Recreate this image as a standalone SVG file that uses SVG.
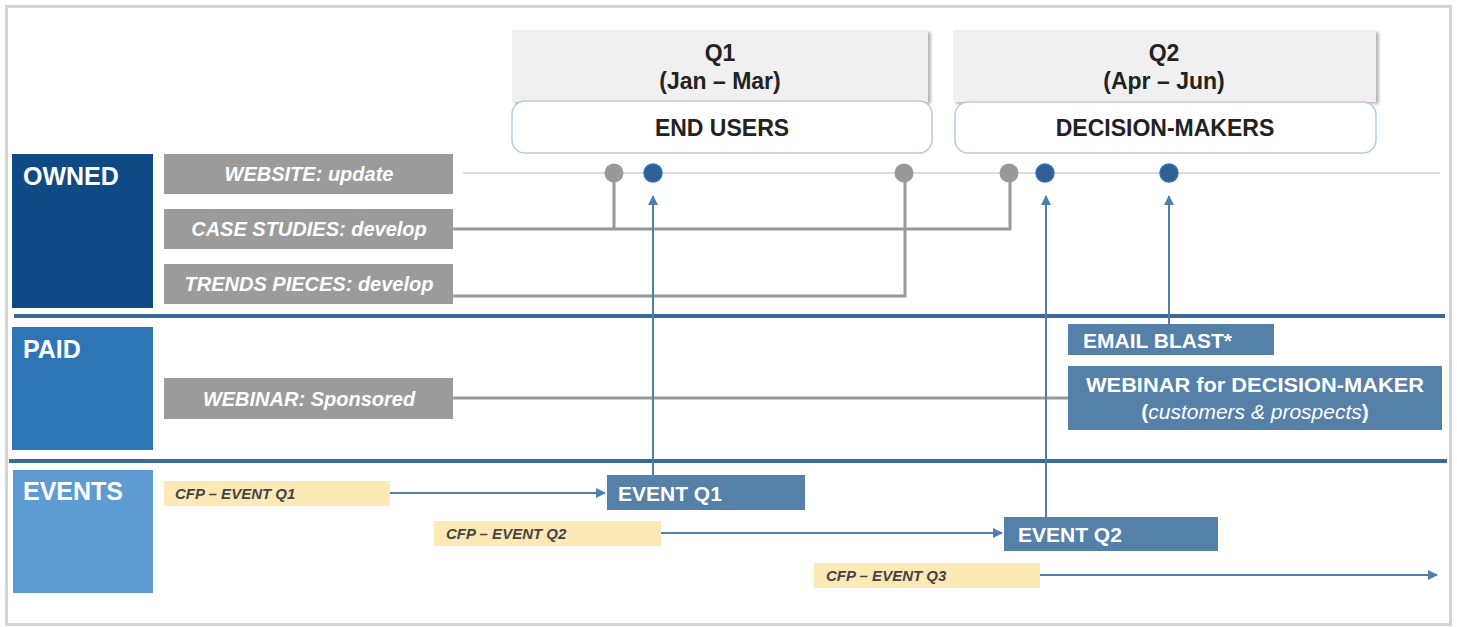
<svg xmlns="http://www.w3.org/2000/svg" width="1457" height="627" viewBox="0 0 1457 627">
<defs>
<marker id="arr" viewBox="0 0 10 10" refX="9" refY="5" markerWidth="5" markerHeight="5" orient="auto" markerUnits="strokeWidth">
<path d="M0,0 L10,5 L0,10 z" fill="#4F7FAA"/>
</marker>
<filter id="sh" x="-5%" y="-5%" width="110%" height="120%">
<feDropShadow dx="3" dy="2" stdDeviation="1.5" flood-color="#888" flood-opacity="0.6"/>
</filter>
</defs>
<style>
text{font-family:"Liberation Sans",Arial,sans-serif;font-weight:bold}
.cat{fill:#fff;font-size:25px}
.gbox{fill:#9B9B9B}
.gtxt{fill:#fff;font-size:20px;font-style:italic;text-anchor:middle}
.cfp{fill:#FDE9B6}
.cfpt{fill:#444;font-size:15px;font-style:italic}
.bbox{fill:#5580A8}
.btxt{fill:#fff;font-size:21px}
.hdr{fill:#F0F0F0}
.htxt{fill:#222;font-size:23px;text-anchor:middle}
.aud{fill:#fff;stroke:#B8CBDB;stroke-width:1.5}
.gl{fill:none;stroke:#999;stroke-width:3}
.bl{fill:none;stroke:#4F7FAA;stroke-width:2;marker-end:url(#arr)}
.sep{stroke:#3A6A9A;stroke-width:4}
.gd{fill:#999}
.bd{fill:#2F5F95;stroke:#2E75B6;stroke-width:1.5}
</style>
<rect x="0" y="0" width="1457" height="627" fill="#fff"/>
<rect x="6.5" y="6.5" width="1444" height="618" fill="none" stroke="#D4D4D4" stroke-width="3"/>

<g id="header-q1">
<rect class="hdr" x="512" y="30" width="416" height="72" filter="url(#sh)"/>
<text class="htxt" x="720" y="61">Q1</text>
<text class="htxt" x="720" y="89">(Jan – Mar)</text>
</g>
<g id="header-q2">
<rect class="hdr" x="953" y="30" width="423" height="72" filter="url(#sh)"/>
<text class="htxt" x="1164" y="61">Q2</text>
<text class="htxt" x="1164" y="89">(Apr – Jun)</text>
</g>
<g id="end-users">
<rect class="aud" x="512" y="101" width="420" height="52" rx="13"/>
<text class="htxt" x="722" y="136">END USERS</text>
</g>
<g id="decision-makers">
<rect class="aud" x="955" y="102" width="421" height="51" rx="13"/>
<text class="htxt" x="1165" y="136">DECISION-MAKERS</text>
</g>

<g id="owned">
<rect x="12" y="154" width="141" height="154" fill="#0F4A85"/>
<text class="cat" x="23" y="185">OWNED</text>
</g>
<g id="paid">
<rect x="12" y="327" width="141" height="123" fill="#2E75B6"/>
<text class="cat" x="23" y="358">PAID</text>
</g>
<g id="events">
<rect x="13" y="470" width="140" height="123" fill="#5E9BD3"/>
<text class="cat" x="23" y="500">EVENTS</text>
</g>

<g id="separators">
<line class="sep" x1="14" y1="316" x2="1445" y2="316"/>
<line class="sep" x1="9" y1="461" x2="1447" y2="461"/>
</g>

<g id="connectors">
<line x1="463" y1="173" x2="1440" y2="173" stroke="#D0D0D0" stroke-width="1.5"/>
<path class="gl" d="M453,229 H1010 V173"/>
<path class="gl" d="M614,229 V173"/>
<path class="gl" d="M453,296 H905 V173"/>
<path class="gl" d="M453,398 H1068"/>
<path class="bl" d="M653,475 V196"/>
<path class="bl" d="M1046,517 V196"/>
<path class="bl" d="M1169,324 V196"/>
<path class="bl" d="M390,493 H605"/>
<path class="bl" d="M661,533 H1002"/>
<path class="bl" d="M1040,575 H1437"/>
<circle class="gd" cx="614" cy="173" r="9.5"/>
<circle class="gd" cx="904" cy="173" r="9.5"/>
<circle class="gd" cx="1009" cy="173" r="9.5"/>
<circle class="bd" cx="653" cy="173" r="9"/>
<circle class="bd" cx="1045" cy="173" r="9"/>
<circle class="bd" cx="1169" cy="173" r="9"/>
</g>

<g id="website">
<rect class="gbox" x="164" y="154" width="289" height="40"/>
<text class="gtxt" x="309" y="181">WEBSITE: update</text>
</g>
<g id="case-studies">
<rect class="gbox" x="164" y="209" width="289" height="40"/>
<text class="gtxt" x="309" y="236">CASE STUDIES: develop</text>
</g>
<g id="trends-pieces">
<rect class="gbox" x="164" y="264" width="289" height="40"/>
<text class="gtxt" x="309" y="291">TRENDS PIECES: develop</text>
</g>
<g id="webinar-sponsored">
<rect class="gbox" x="164" y="378" width="289" height="41"/>
<text class="gtxt" x="309" y="406">WEBINAR: Sponsored</text>
</g>

<g id="email-blast">
<rect class="bbox" x="1068" y="324" width="206" height="31"/>
<text class="btxt" x="1083" y="348" font-size="20">EMAIL BLAST*</text>
</g>
<g id="webinar-dm">
<rect class="bbox" x="1068" y="366" width="374" height="64"/>
<text class="btxt" x="1255" y="392" text-anchor="middle" textLength="338" lengthAdjust="spacingAndGlyphs">WEBINAR for DECISION-MAKER</text>
<text x="1255" y="419" text-anchor="middle" fill="#fff" font-size="21">(<tspan font-style="italic" font-weight="normal">customers &amp; prospects</tspan>)</text>
</g>

<g id="cfp-q1">
<rect class="cfp" x="164" y="481" width="226" height="25"/>
<text class="cfpt" x="175" y="499">CFP – EVENT Q1</text>
</g>
<g id="cfp-q2">
<rect class="cfp" x="434" y="521" width="227" height="25"/>
<text class="cfpt" x="446" y="539">CFP – EVENT Q2</text>
</g>
<g id="cfp-q3">
<rect class="cfp" x="814" y="563" width="226" height="25"/>
<text class="cfpt" x="826" y="581">CFP – EVENT Q3</text>
</g>
<g id="event-q1">
<rect class="bbox" x="607" y="475" width="198" height="35"/>
<text class="btxt" x="618" y="501">EVENT Q1</text>
</g>
<g id="event-q2">
<rect class="bbox" x="1004" y="517" width="214" height="34"/>
<text class="btxt" x="1018" y="542">EVENT Q2</text>
</g>
</svg>
